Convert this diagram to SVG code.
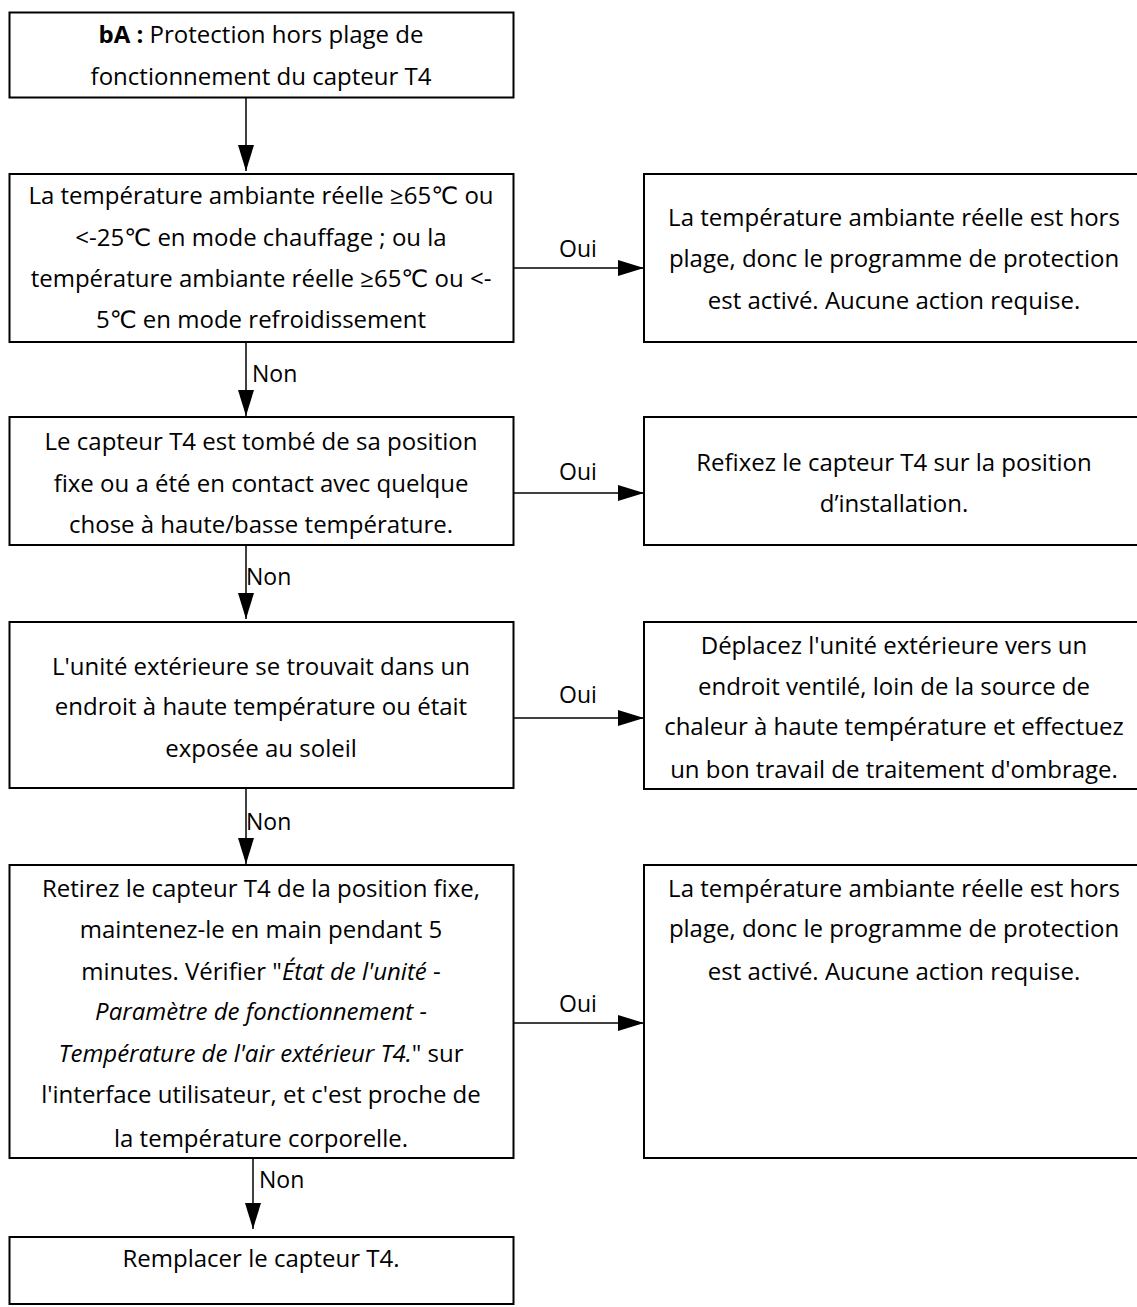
<svg xmlns="http://www.w3.org/2000/svg" width="1137" height="1307" viewBox="0 0 1137 1307">
  <style>
    .box { fill: #ffffff; stroke: #000000; stroke-width: 2; }
    .txt { font-family: "Open Sans", "Liberation Sans", "DejaVu Sans", sans-serif; font-size: 24px; fill: #000000; text-anchor: middle; }
    .lbl { font-family: "Open Sans", "Liberation Sans", "DejaVu Sans", sans-serif; font-size: 23px; fill: #000000; }
    .edge { fill: none; stroke: #000000; stroke-width: 1.5; marker-end: url(#head); }
    .it { font-style: italic; }
    .b { font-weight: bold; }
  </style>
  <defs>
    <marker id="head" markerUnits="userSpaceOnUse" markerWidth="26" markerHeight="16" refX="26" refY="8" orient="auto" viewBox="0 0 26 16">
      <path d="M0,0 L26,8 L0,16 Z" fill="#000000"/>
    </marker>
  </defs>
  <rect width="1137" height="1307" fill="#ffffff"/>

  <!-- connectors -->
  <g id="connectors">
    <line class="edge" x1="246" y1="97" x2="246" y2="171"/>
    <line class="edge" x1="513" y1="268" x2="644" y2="268"/>
    <text class="lbl" x="578" y="257" text-anchor="middle">Oui</text>
    <line class="edge" x1="246" y1="342" x2="246" y2="416"/>
    <text class="lbl" x="252" y="382">Non</text>
    <line class="edge" x1="513" y1="493" x2="644" y2="493"/>
    <text class="lbl" x="578" y="480" text-anchor="middle">Oui</text>
    <line class="edge" x1="246" y1="545" x2="246" y2="619"/>
    <text class="lbl" x="246" y="585">Non</text>
    <line class="edge" x1="513" y1="718" x2="644" y2="718"/>
    <text class="lbl" x="578" y="703" text-anchor="middle">Oui</text>
    <line class="edge" x1="246" y1="788" x2="246" y2="864"/>
    <text class="lbl" x="246" y="830">Non</text>
    <line class="edge" x1="513" y1="1023" x2="644" y2="1023"/>
    <text class="lbl" x="578" y="1012" text-anchor="middle">Oui</text>
    <line class="edge" x1="253" y1="1155" x2="253" y2="1229"/>
    <text class="lbl" x="259" y="1188">Non</text>
  </g>

  <!-- left column -->
  <g id="start">
    <rect class="box" x="9.5" y="12.5" width="504" height="85"/>
    <text class="txt" x="261" y="43"><tspan class="b">bA :</tspan> Protection hors plage de</text>
    <text class="txt" x="261" y="85">fonctionnement du capteur T4</text>
  </g>
  <g id="check-range">
    <rect class="box" x="9.5" y="174" width="504" height="168"/>
    <text class="txt" x="261" y="204">La température ambiante réelle ≥65℃ ou</text>
    <text class="txt" x="261" y="246">&lt;-25℃ en mode chauffage ; ou la</text>
    <text class="txt" x="261" y="287">température ambiante réelle ≥65℃ ou &lt;-</text>
    <text class="txt" x="261" y="328">5℃ en mode refroidissement</text>
  </g>
  <g id="check-fixing">
    <rect class="box" x="9.5" y="417" width="504" height="128"/>
    <text class="txt" x="261" y="450">Le capteur T4 est tombé de sa position</text>
    <text class="txt" x="261" y="492">fixe ou a été en contact avec quelque</text>
    <text class="txt" x="261" y="533">chose à haute/basse température.</text>
  </g>
  <g id="check-location">
    <rect class="box" x="9.5" y="622" width="504" height="166"/>
    <text class="txt" x="261" y="675">L'unité extérieure se trouvait dans un</text>
    <text class="txt" x="261" y="715">endroit à haute température ou était</text>
    <text class="txt" x="261" y="757">exposée au soleil</text>
  </g>
  <g id="check-reading">
    <rect class="box" x="9.5" y="865" width="504" height="293"/>
    <text class="txt" x="261" y="897">Retirez le capteur T4 de la position fixe,</text>
    <text class="txt" x="261" y="938">maintenez-le en main pendant 5</text>
    <text class="txt" x="261" y="980">minutes. Vérifier "<tspan class="it">État de l'unité</tspan> -</text>
    <text class="txt it" x="261" y="1020">Paramètre de fonctionnement -</text>
    <text class="txt" x="261" y="1062"><tspan class="it">Température de l'air extérieur T4.</tspan>" sur</text>
    <text class="txt" x="261" y="1103">l'interface utilisateur, et c'est proche de</text>
    <text class="txt" x="261" y="1147">la température corporelle.</text>
  </g>
  <g id="replace-sensor">
    <rect class="box" x="9.5" y="1237" width="504" height="67"/>
    <text class="txt" x="261" y="1267">Remplacer le capteur T4.</text>
  </g>

  <!-- right column -->
  <g id="out-of-range-1">
    <rect class="box" x="644" y="174" width="510" height="168"/>
    <text class="txt" x="894" y="226">La température ambiante réelle est hors</text>
    <text class="txt" x="894" y="267">plage, donc le programme de protection</text>
    <text class="txt" x="894" y="309">est activé. Aucune action requise.</text>
  </g>
  <g id="refix-sensor">
    <rect class="box" x="644" y="417" width="510" height="128"/>
    <text class="txt" x="894" y="471">Refixez le capteur T4 sur la position</text>
    <text class="txt" x="894" y="512">d’installation.</text>
  </g>
  <g id="move-unit">
    <rect class="box" x="644" y="622" width="510" height="167"/>
    <text class="txt" x="894" y="654">Déplacez l'unité extérieure vers un</text>
    <text class="txt" x="894" y="695">endroit ventilé, loin de la source de</text>
    <text class="txt" x="894" y="735">chaleur à haute température et effectuez</text>
    <text class="txt" x="894" y="778">un bon travail de traitement d'ombrage.</text>
  </g>
  <g id="out-of-range-2">
    <rect class="box" x="644" y="865" width="510" height="293"/>
    <text class="txt" x="894" y="897">La température ambiante réelle est hors</text>
    <text class="txt" x="894" y="937">plage, donc le programme de protection</text>
    <text class="txt" x="894" y="980">est activé. Aucune action requise.</text>
  </g>
</svg>
